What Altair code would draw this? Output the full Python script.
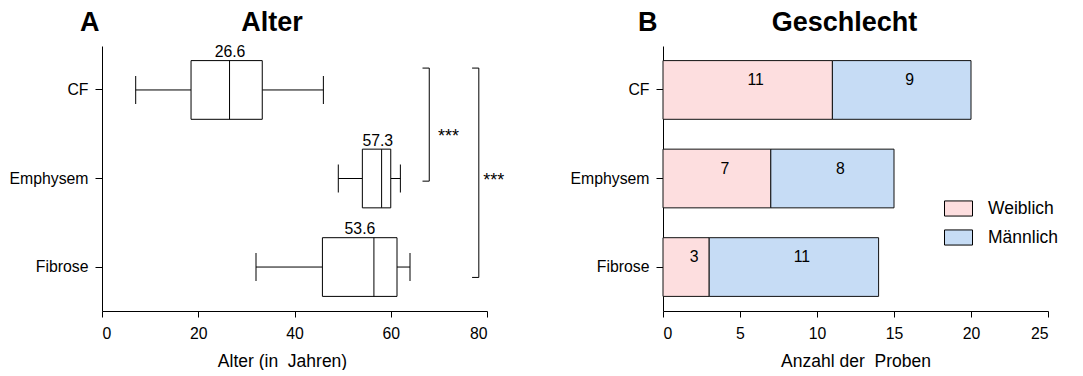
import altair as alt
import pandas as pd

# ---------------- data ----------------
groups = ["CF", "Emphysem", "Fibrose"]

# Panel A: age box plots (years)
age_min = [7.0, 49.1, 32.0]
age_q1 = [18.5, 54.1, 45.8]
age_median = [26.5, 58.1, 56.5]
age_q3 = [33.3, 60.0, 61.3]
age_max = [46.0, 62.0, 64.0]
age_label = [26.6, 57.3, 53.6]

# significance brackets (x in years, y in group index units: CF=1 ... Fibrose=3)
brk_x = [68.0, 78.3]
brk_tick_x = [66.6, 76.9]
brk_top = [0.75, 0.75]
brk_bottom = [2.03, 3.12]
star_x = [69.8, 79.2]
star_y = [1.59, 2.08]
star_text = ["***", "***"]

# Panel B: sex counts
sexes = ["Weiblich", "Männlich"]
female = [11, 7, 3]
male = [9, 8, 11]

# panel headings
letters = ["A", "B"]
headings = ["Alter", "Geschlecht"]

# ---------------- styling ----------------
FONT = "Liberation Sans"
W, H = 385, 265
PI, PO = 0.337, 0.165
STEP = H / (len(groups) - PI + 2 * PO)
BANDW = STEP * (1 - PI)
PINK = "#FDDEDF"
BLUE = "#C6DCF5"
TICK_FS = 15.8
TITLE_FS = 17.5

box_df = pd.DataFrame(dict(group=groups, lo=age_min, q1=age_q1, med=age_median,
                           q3=age_q3, hi=age_max, lab=age_label))
brk_df = pd.DataFrame(dict(x=brk_x, tx=brk_tick_x, top=brk_top, bot=brk_bottom,
                           sx=star_x, sy=star_y, stars=star_text))
rows = []
for i, g in enumerate(groups):
    rows.append(dict(group=g, sex=sexes[0], count=female[i], ord=0))
    rows.append(dict(group=g, sex=sexes[1], count=male[i], ord=1))
sex_df = pd.DataFrame(rows)

y_axis = alt.Axis(title=None, tickSize=7, labelPadding=7, labelFontSize=TICK_FS)
y_band = alt.Y("group:N", sort=groups,
               scale=alt.Scale(domain=groups, paddingInner=PI, paddingOuter=PO),
               axis=y_axis)


def xa(field):
    return alt.X(f"{field}:Q", scale=alt.Scale(domain=[0, 80], nice=False),
                 axis=alt.Axis(values=[0, 20, 40, 60, 80], title="Alter (in\u00a0 Jahren)",
                               titleX=180, titleY=55.5, titleBaseline="alphabetic",
                               titleAlign="center", titleFontSize=TITLE_FS,
                               tickSize=6, labelPadding=9, labelFontSize=TICK_FS))


def yq(field):
    return alt.Y(f"{field}:Q", scale=alt.Scale(domain=[0.5, 3.5], reverse=True,
                                               nice=False, zero=False), axis=None)


def heading(letter, title, letter_x, title_x):
    df = pd.DataFrame({"t": [letter], "h": [title]})
    a = alt.Chart(df).mark_text(
        align="left", baseline="alphabetic", fontSize=27, fontWeight="bold", font=FONT,
        color="black").encode(x=alt.value(letter_x), y=alt.value(-15), text="t:N")
    b = alt.Chart(df).mark_text(
        align="center", baseline="alphabetic", fontSize=27, fontWeight="bold", font=FONT,
        color="black").encode(x=alt.value(title_x), y=alt.value(-15), text="h:N")
    return a, b


base = alt.Chart(box_df)
whisk_l = base.mark_rule(color="black", strokeWidth=1).encode(x=xa("lo"), x2="q1:Q", y=y_band)
whisk_r = base.mark_rule(color="black", strokeWidth=1).encode(x=xa("q3"), x2="hi:Q", y=y_band)
box = base.mark_bar(fill="white", stroke="black", strokeWidth=1).encode(
    x=xa("q1"), x2="q3:Q", y=y_band)
cap_lo = base.mark_tick(orient="vertical", size=28, thickness=1, color="black",
                        opacity=1).encode(x=xa("lo"), y=y_band)
cap_hi = base.mark_tick(orient="vertical", size=28, thickness=1, color="black",
                        opacity=1).encode(x=xa("hi"), y=y_band)
med = base.mark_tick(orient="vertical", size=BANDW, thickness=1, color="black",
                     opacity=1).encode(x=xa("med"), y=y_band)
lab = base.mark_text(dy=-33, baseline="alphabetic", fontSize=TICK_FS, font=FONT,
                     color="black").encode(x=xa("lab"), y=y_band,
                                           text=alt.Text("lab:Q", format=".1f"))

bb = alt.Chart(brk_df)
v_rule = bb.mark_rule(color="black", strokeWidth=1).encode(x=xa("x"), y=yq("top"), y2="bot:Q")
t_rule = bb.mark_rule(color="black", strokeWidth=1).encode(x=xa("tx"), x2="x:Q", y=yq("top"))
b_rule = bb.mark_rule(color="black", strokeWidth=1).encode(x=xa("tx"), x2="x:Q", y=yq("bot"))
stars = bb.mark_text(align="left", baseline="alphabetic", fontSize=18, font=FONT,
                     color="black").encode(x=xa("sx"), y=yq("sy"), text="stars:N")

la, ta = heading(letters[0], headings[0], -22, W / 2 - 22.5)

panel_a = alt.layer(
    alt.layer(whisk_l, whisk_r, box, cap_lo, cap_hi, med, lab),
    alt.layer(v_rule, t_rule, b_rule, stars),
    la, ta,
).resolve_scale(y="independent").properties(width=W, height=H)


def xb(field):
    return alt.X(f"{field}:Q", scale=alt.Scale(domain=[0, 25], nice=False),
                 axis=alt.Axis(values=[0, 5, 10, 15, 20, 25],
                               title="Anzahl der\u00a0 Proben",
                               titleY=55.5, titleBaseline="alphabetic",
                               titleFontSize=TITLE_FS, tickSize=6, labelPadding=9,
                               labelFontSize=TICK_FS))


bars = alt.Chart(sex_df).transform_stack(
    stack="count", groupby=["group"], as_=["x0", "x1"],
    sort=[alt.SortField("ord", order="ascending")],
).mark_bar(stroke="#111111", strokeWidth=1).encode(
    x=xb("x0"), x2="x1:Q", y=y_band,
    color=alt.Color("sex:N", scale=alt.Scale(domain=sexes, range=[PINK, BLUE]),
                    legend=alt.Legend(title=None, orient="none", legendX=281, legendY=148,
                                      padding=0,
                                      symbolType="M-1,-0.54H1V0.54H-1Z", symbolSize=784,
                                      symbolStrokeColor="black", symbolStrokeWidth=1,
                                      symbolOpacity=1,
                                      labelFontSize=TITLE_FS, labelFont=FONT,
                                      labelColor="black", labelOffset=15, rowPadding=4)),
)

bar_text = alt.Chart(sex_df).transform_stack(
    stack="count", groupby=["group"], as_=["x0", "x1"],
    sort=[alt.SortField("ord", order="ascending")],
).transform_calculate(mid="(datum.x0 + datum.x1) / 2").mark_text(
    dx=8, dy=-10, baseline="middle", fontSize=TICK_FS, font=FONT, color="black",
).encode(x=xb("mid"), y=y_band, text="count:Q")

lb, tb = heading(letters[1], headings[1], -25, W / 2 - 11)

panel_b = alt.layer(bars, bar_text, lb, tb).properties(width=W, height=H)

chart = alt.hconcat(panel_a, panel_b, spacing=176, bounds="flush").resolve_legend(
    color="independent"
).properties(
    padding={"left": 0, "top": 1, "right": 0, "bottom": 0}
).configure_view(stroke=None).configure_axis(
    grid=False, domainColor="black", tickColor="black", labelColor="black",
    titleColor="black", labelFont=FONT, titleFont=FONT, titleFontWeight="normal",
    domainWidth=1, tickWidth=1,
)

chart.save("out.html", embed_options={"renderer": "svg", "actions": False})
